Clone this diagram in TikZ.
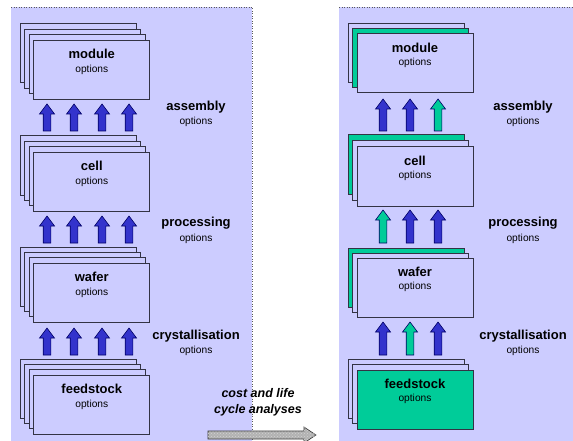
\documentclass[tikz,border=0pt]{standalone}
\usepackage{fontspec}
\setmainfont{Liberation Sans}
\usetikzlibrary{calc,patterns}
\definecolor{lav}{HTML}{CCCCFF}
\definecolor{pvgreen}{HTML}{00CC99}
\definecolor{pvblue}{HTML}{3333CC}
\definecolor{pvnavy}{HTML}{000066}
\definecolor{cardline}{HTML}{333344}
\begin{document}
\begin{tikzpicture}[x=1pt,y=-1pt,
  panel/.style={fill=lav,draw=none},
  panelline/.style={draw=gray!70!black,line width=0.5pt,dotted},
  card/.style={draw=cardline,line width=1pt,fill=lav,minimum width=116pt,minimum height=59pt,inner sep=0pt,outer sep=0pt,anchor=north west},
  ttl/.style={font=\fontsize{13}{15}\selectfont\bfseries,inner sep=0pt},
  opt/.style={font=\fontsize{10.2}{12}\selectfont,inner sep=0pt},
  blue arr/.style={fill=pvblue,draw=pvnavy,line width=0.6pt},
  green arr/.style={fill=pvgreen,draw=pvnavy,line width=0.6pt},
  uparr/.pic={\path[pic actions] (-3.8,0) -- (-3.8,{10-#1}) -- (-7.5,{10-#1}) -- (0,-#1) -- (7.5,{10-#1}) -- (3.8,{10-#1}) -- (3.8,0) -- cycle;}
]
\useasboundingbox (0,0) rectangle (573,441);
% panels
\fill[panel] (11,7) rectangle (252,441);
\draw[panelline] (11,7) -- (252,7) -- (252,441);
\fill[panel] (339,7) rectangle (573,441);
\draw[panelline] (339,7) -- (573,7);

% ---------- left stacks ----------
\foreach \n/\yy in {mod/24,cel/136,waf/247,fee/359}{
  \foreach \k in {0,1,2,3}{
    \node[card] (L\n\k) at ({20+4.6*\k},{\yy+5.4*\k}) {};
  }
}
\node[ttl] (Lmodt) at ($(Lmod3.north)+(0,14)$) {module};
\node[opt] (Lmodo) at ($(Lmod3.north)+(0,30)$) {options};
\node[ttl] (Lcelt) at ($(Lcel3.north)+(0,14)$) {cell};
\node[opt] (Lcelo) at ($(Lcel3.north)+(0,30)$) {options};
\node[ttl] (Lwaft) at ($(Lwaf3.north)+(0,14)$) {wafer};
\node[opt] (Lwafo) at ($(Lwaf3.north)+(0,30)$) {options};
\node[ttl] (Lfeet) at ($(Lfee3.north)+(0,14)$) {feedstock};
\node[opt] (Lfeeo) at ($(Lfee3.north)+(0,30)$) {options};

\foreach \x in {47,74,102,129}{
  \pic[blue arr] at (\x,131) {uparr=27};
  \pic[blue arr] at (\x,243) {uparr=27};
  \pic[blue arr] at (\x,355) {uparr=27};
}

\node[ttl] (La) at (196,107) {assembly};
\node[opt] (Lao) at (196,122) {options};
\node[ttl] (Lp) at (196,223) {processing};
\node[opt] (Lpo) at (196,239) {options};
\node[ttl] (Lc) at (196,336) {crystallisation};
\node[opt] (Lco) at (196,351) {options};

% ---------- right stacks ----------
\node[card] (Rmod0) at (348,24) {};
\node[card,fill=pvgreen] (Rmod1) at (352.5,29) {};
\node[card] (Rmod2) at (357,34) {};
\node[card,fill=pvgreen] (Rcel0) at (348,135) {};
\node[card] (Rcel1) at (352.5,141) {};
\node[card] (Rcel2) at (357,147) {};
\node[card,fill=pvgreen] (Rwaf0) at (348,248) {};
\node[card] (Rwaf1) at (352.5,253) {};
\node[card] (Rwaf2) at (357,258) {};
\node[card] (Rfee0) at (348,359) {};
\node[card] (Rfee1) at (352.5,364.5) {};
\node[card,fill=pvgreen] (Rfee2) at (357,370) {};

\node[ttl] (Rmodt) at ($(Rmod2.north)+(0,14)$) {module};
\node[opt] (Rmodo) at ($(Rmod2.north)+(0,29)$) {options};
\node[ttl] (Rcelt) at ($(Rcel2.north)+(0,14)$) {cell};
\node[opt] (Rcelo) at ($(Rcel2.north)+(0,29)$) {options};
\node[ttl] (Rwaft) at ($(Rwaf2.north)+(0,14)$) {wafer};
\node[opt] (Rwafo) at ($(Rwaf2.north)+(0,29)$) {options};
\node[ttl] (Rfeet) at ($(Rfee2.north)+(0,14)$) {feedstock};
\node[opt] (Rfeeo) at ($(Rfee2.north)+(0,29)$) {options};

\pic[blue arr] at (383,131) {uparr=32};
\pic[blue arr] at (410,131) {uparr=32};
\pic[green arr] at (438,131) {uparr=32};
\pic[green arr] at (383,243) {uparr=33};
\pic[blue arr] at (410,243) {uparr=33};
\pic[blue arr] at (438,243) {uparr=33};
\pic[blue arr] at (383,355) {uparr=33};
\pic[green arr] at (410,355) {uparr=33};
\pic[blue arr] at (438,355) {uparr=33};

\node[ttl] (Ra) at (523,107) {assembly};
\node[opt] (Rao) at (523,122) {options};
\node[ttl] (Rp) at (523,223) {processing};
\node[opt] (Rpo) at (523,239) {options};
\node[ttl] (Rc) at (523,336) {crystallisation};
\node[opt] (Rco) at (523,351) {options};

% ---------- cost arrow ----------
\node[font=\fontsize{12.5}{14}\selectfont\bfseries\itshape,inner sep=0pt] (cost1) at (258,393) {cost and life};
\node[font=\fontsize{12.5}{14}\selectfont\bfseries\itshape,inner sep=0pt] (cost2) at (258,410) {cycle analyses};
\filldraw[fill=gray!60,draw=gray!40!black,line width=0.6pt]
  (208,431) -- (304,431) -- (304,427) -- (316,435) -- (304,443) -- (304,439) -- (208,439) -- cycle;
\fill[pattern=crosshatch dots,pattern color=gray!35]
  (208,431) -- (304,431) -- (304,427) -- (316,435) -- (304,443) -- (304,439) -- (208,439) -- cycle;
\end{tikzpicture}
\end{document}
